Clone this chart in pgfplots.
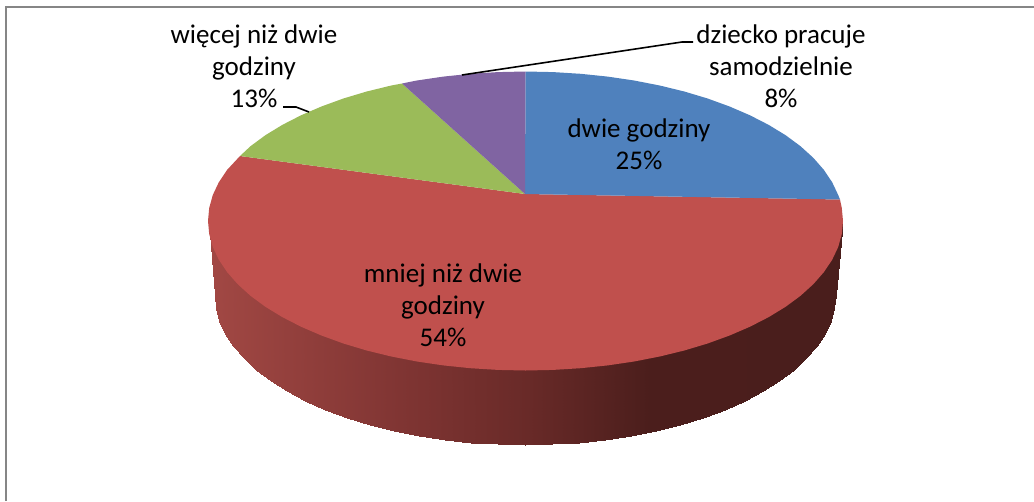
\documentclass[border=0pt]{standalone}
\usepackage{fontspec}
\setmainfont{Carlito}
\usepackage{pgfplots}
\pgfplotsset{compat=1.18}
\definecolor{pieblue}{HTML}{4F81BD}
\definecolor{piered}{HTML}{C0504D}
\definecolor{piegreen}{HTML}{9BBB59}
\definecolor{piepurple}{HTML}{8064A2}
\definecolor{frame}{HTML}{868686}
\newcommand{\lab}{\fontsize{27}{32}\selectfont}
\begin{document}
\begin{tikzpicture}
\begin{axis}[
    scale only axis, width=1034pt, height=501pt,
    xmin=0, xmax=1034, ymin=0, ymax=501, y dir=reverse,
    hide axis, clip=true,
    colormap={side}{rgb255(0pt)=(162,72,68) rgb255(192pt)=(128,53,51) rgb255(319pt)=(105,42,40) rgb255(442pt)=(75,30,28) rgb255(635pt)=(74,30,28)},
]
% keeps the page at full size
\addplot[draw=none, forget plot] coordinates {(0,0) (1034,501)};

% frame
\addplot[frame, line width=2.2pt, forget plot] coordinates {(6,501) (6,7) (1034,7)};

% side wall of the pie, upper row runs a little under the top face
\addplot[surf, shader=interp, mesh/rows=2, point meta=x, point meta min=208, point meta max=843, forget plot] coordinates {
(208.5,221) (209.7,232) (213.3,245) (219.3,257.7) (227.6,270.1) (238.2,282.2) (251,293.8) (265.4,304.8) (282.3,315.1) (301,324.7) (321.4,333.5) (343.4,341.5) (366.7,348.5) (391.3,354.5) (416.9,359.5) (443.3,363.4) (470.4,366.2) (497.8,367.9) (525.5,368.5) (553.2,367.9) (580.6,366.2) (607.7,363.4) (634.1,359.5) (659.7,354.5) (684.3,348.5) (707.6,341.5) (729.6,333.5) (750,324.7) (768.7,315.1) (785.6,304.8) (800,293.8) (812.8,282.2) (823.4,270.1) (831.7,257.7) (837.7,245) (841.3,232) (842.5,221)

(214.5,295) (215.7,308.1) (219.2,321) (225.1,333.8) (233.2,346.3) (243.6,358.4) (256.1,370) (270.6,381) (287.2,391.4) (305.4,401.1) (325.4,409.9) (346.9,417.9) (369.7,424.9) (393.8,430.9) (418.8,436) (444.6,439.9) (471.1,442.7) (497.9,444.4) (525,445) (552.1,444.4) (578.9,442.7) (605.4,439.9) (631.2,436) (656.2,430.9) (680.3,424.9) (703.1,417.9) (724.6,409.9) (744.6,401.1) (762.8,391.4) (779.4,381) (793.9,370) (806.4,358.4) (816.8,346.3) (824.9,333.8) (830.8,321) (834.3,308.1) (835.5,295)
};

% top face: mniej niz dwie godziny 54%
\addplot[fill=piered, draw=none, forget plot] coordinates {
(525,194) (840,199.5) (841.8,208) (843,221) (841.8,234) (838.2,247) (832.2,259.7) (823.9,272.1) (813.3,284.2) (800.5,295.8) (785.6,306.8) (768.7,317.1) (750,326.7) (729.6,335.5) (707.6,343.5) (684.3,350.5) (659.7,356.5) (634.1,361.5) (607.7,365.4) (580.6,368.2) (553.2,369.9) (525.5,370.5) (497.8,369.9) (470.4,368.2) (443.3,365.4) (416.9,361.5) (391.3,356.5) (366.7,350.5) (343.4,343.5) (321.4,335.5) (301,326.7) (282.3,317.1) (265.4,306.8) (250.5,295.8) (237.7,284.2) (227.1,272.1) (218.8,259.7) (212.8,247) (209.2,234) (208,221) (209.2,208) (212.8,195) (218.8,182.3) (227.1,169.9) (240,156)
} --cycle;
% dwie godziny 25%
\addplot[fill=pieblue, draw=none, forget plot] coordinates {
(525,194) (525.5,71.5) (553.2,72.1) (580.6,73.8) (607.7,76.6) (634.1,80.5) (659.7,85.5) (684.3,91.5) (707.6,98.5) (729.6,106.5) (750,115.3) (768.7,124.9) (785.6,135.2) (800.5,146.2) (813.3,157.8) (823.9,169.9) (832.2,182.3) (838.2,195) (840,199.5)
} --cycle;
% wiecej niz dwie godziny 13%
\addplot[fill=piegreen, draw=none, forget plot] coordinates {
(525,194) (240,156) (250.5,146.2) (265.4,135.2) (282.3,124.9) (301,115.3) (321.4,106.5) (343.4,98.5) (366.7,91.5) (391.3,85.5) (402,83.5)
} --cycle;
% dziecko pracuje samodzielnie 8%
\addplot[fill=piepurple, draw=none, forget plot] coordinates {
(525,194) (402,83.5) (416.9,80.5) (443.3,76.6) (470.4,73.8) (497.8,72.1) (525.5,71.5)
} --cycle;

% leader lines
\addplot[black, line width=1.6pt, forget plot] coordinates {(283,107) (296,107) (309,112)};
\addplot[black, line width=1.6pt, forget plot] coordinates {(462,75) (682,42) (693,42)};

% labels
\node[anchor=base] at (axis cs:254,43) {\lab więcej niż dwie};
\node[anchor=base] at (axis cs:254,75) {\lab godziny};
\node[anchor=base] at (axis cs:254,107) {\lab 13\%};
\node[anchor=base] at (axis cs:781,43) {\lab dziecko pracuje};
\node[anchor=base] at (axis cs:781,75) {\lab samodzielnie};
\node[anchor=base] at (axis cs:781,107) {\lab 8\%};
\node[anchor=base] at (axis cs:639,137) {\lab dwie godziny};
\node[anchor=base] at (axis cs:639,169) {\lab 25\%};
\node[anchor=base] at (axis cs:443,282) {\lab mniej niż dwie};
\node[anchor=base] at (axis cs:443,314) {\lab godziny};
\node[anchor=base] at (axis cs:443,346) {\lab 54\%};
\end{axis}
\end{tikzpicture}
\end{document}
